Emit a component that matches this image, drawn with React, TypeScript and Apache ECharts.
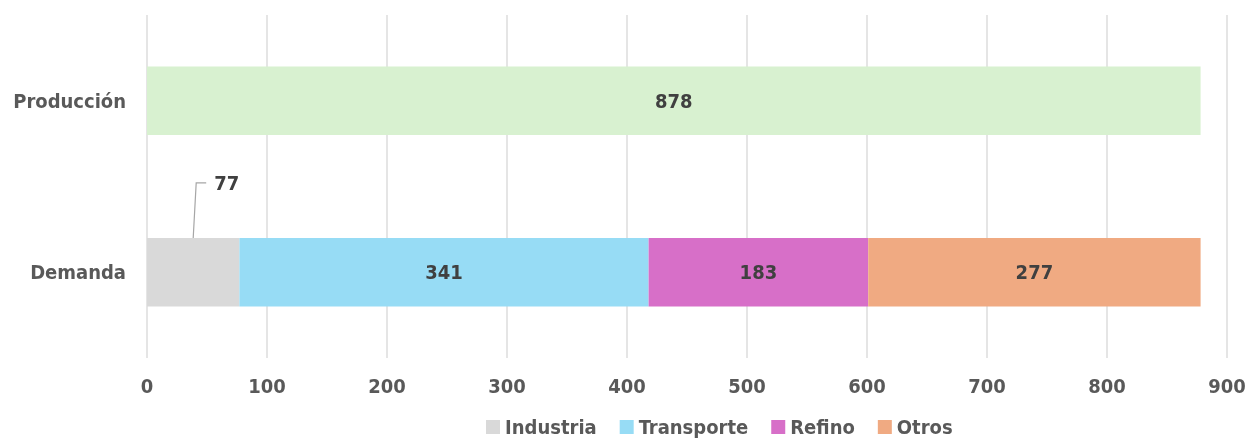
import React, { useEffect, useRef } from "react";
import * as echarts from "echarts";

const categories = ["Demanda", "Producción"];
const xTicks = [0, 900, 100];
const industria = [77, "-"];
const transporte = [341, "-"];
const refino = [183, "-"];
const otros = [277, "-"];
const produccion = ["-", 878];
const outsideLabel = [[77, "Demanda"]];

const FONT = "'DejaVu Sans Condensed', 'Roboto', sans-serif";
const FS = 20;

export default function App() {
  const ref = useRef<HTMLDivElement>(null);
  useEffect(() => {
    if (!ref.current) return;
    const chart = echarts.init(ref.current, undefined, { renderer: "svg" });
    const inLabel = {
      show: true,
      position: "inside",
      color: "#404040",
      fontFamily: FONT,
      fontWeight: "bold",
      fontSize: FS,
    };
    const mk = (name: string, data: any[], color: string, label: any) => ({
      name,
      type: "bar",
      stack: "a",
      barWidth: "40%",
      data,
      itemStyle: { color },
      label,
    });
    chart.setOption({
      animation: false,
      textStyle: { fontFamily: FONT },
      grid: { left: 147, right: 23, top: 15, bottom: 87, containLabel: false },
      legend: {
        data: ["Industria", "Transporte", "Refino", "Otros"],
        left: 481,
        top: 414,
        padding: [2, 5, 2, 5],
        icon: "rect",
        itemWidth: 14,
        itemHeight: 14,
        itemGap: 23,
        itemStyle: { borderWidth: 0 },
        textStyle: { color: "#595959", fontFamily: FONT, fontWeight: "bold", fontSize: FS, lineHeight: 22 },
      },
      xAxis: {
        type: "value",
        min: xTicks[0],
        max: xTicks[1],
        interval: xTicks[2],
        axisLine: { show: false },
        axisTick: { show: false },
        splitLine: { lineStyle: { color: "#dcdcdc", width: 1.5 } },
        axisLabel: { color: "#595959", fontFamily: FONT, fontWeight: "bold", fontSize: FS, margin: 18 },
      },
      yAxis: {
        type: "category",
        data: categories,
        axisLine: { show: false },
        axisTick: { show: false },
        axisLabel: { color: "#595959", fontFamily: FONT, fontWeight: "bold", fontSize: FS, margin: 21 },
      },
      series: [
        mk("Industria", industria, "#d9d9d9", { show: false }),
        mk("Transporte", transporte, "#97dcf5", inLabel),
        mk("Refino", refino, "#d76fc8", inLabel),
        mk("Otros", otros, "#f0aa82", inLabel),
        mk("Producción", produccion, "#d8f1d0", inLabel),
        {
          name: "etiqueta",
          type: "custom",
          data: outsideLabel,
          encode: { x: 0, y: 1 },
          z: 10,
          renderItem: (params: any, api: any) => {
            const v = api.value(0);
            const c = api.coord([v / 2, api.value(1)]);
            const band = api.size([0, 1])[1];
            const top = c[1] - (band * 0.4) / 2;
            const ly = top - 55;
            return {
              type: "group",
              children: [
                {
                  type: "polyline",
                  shape: { points: [[c[0], top], [c[0] + 3, ly], [c[0] + 13, ly]] },
                  style: { stroke: "#a6a6a6", lineWidth: 1.2, fill: null },
                },
                {
                  type: "text",
                  style: {
                    text: String(v),
                    x: c[0] + 21,
                    y: ly,
                    verticalAlign: "middle",
                    fill: "#404040",
                    font: "bold " + FS + "px " + FONT,
                  },
                },
              ],
            };
          },
        },
      ],
    });
    return () => chart.dispose();
  }, []);
  return (
    <div
      ref={ref}
      style={{ position: "fixed", left: 0, top: 0, width: 1250, height: 445 }}
    />
  );
}
